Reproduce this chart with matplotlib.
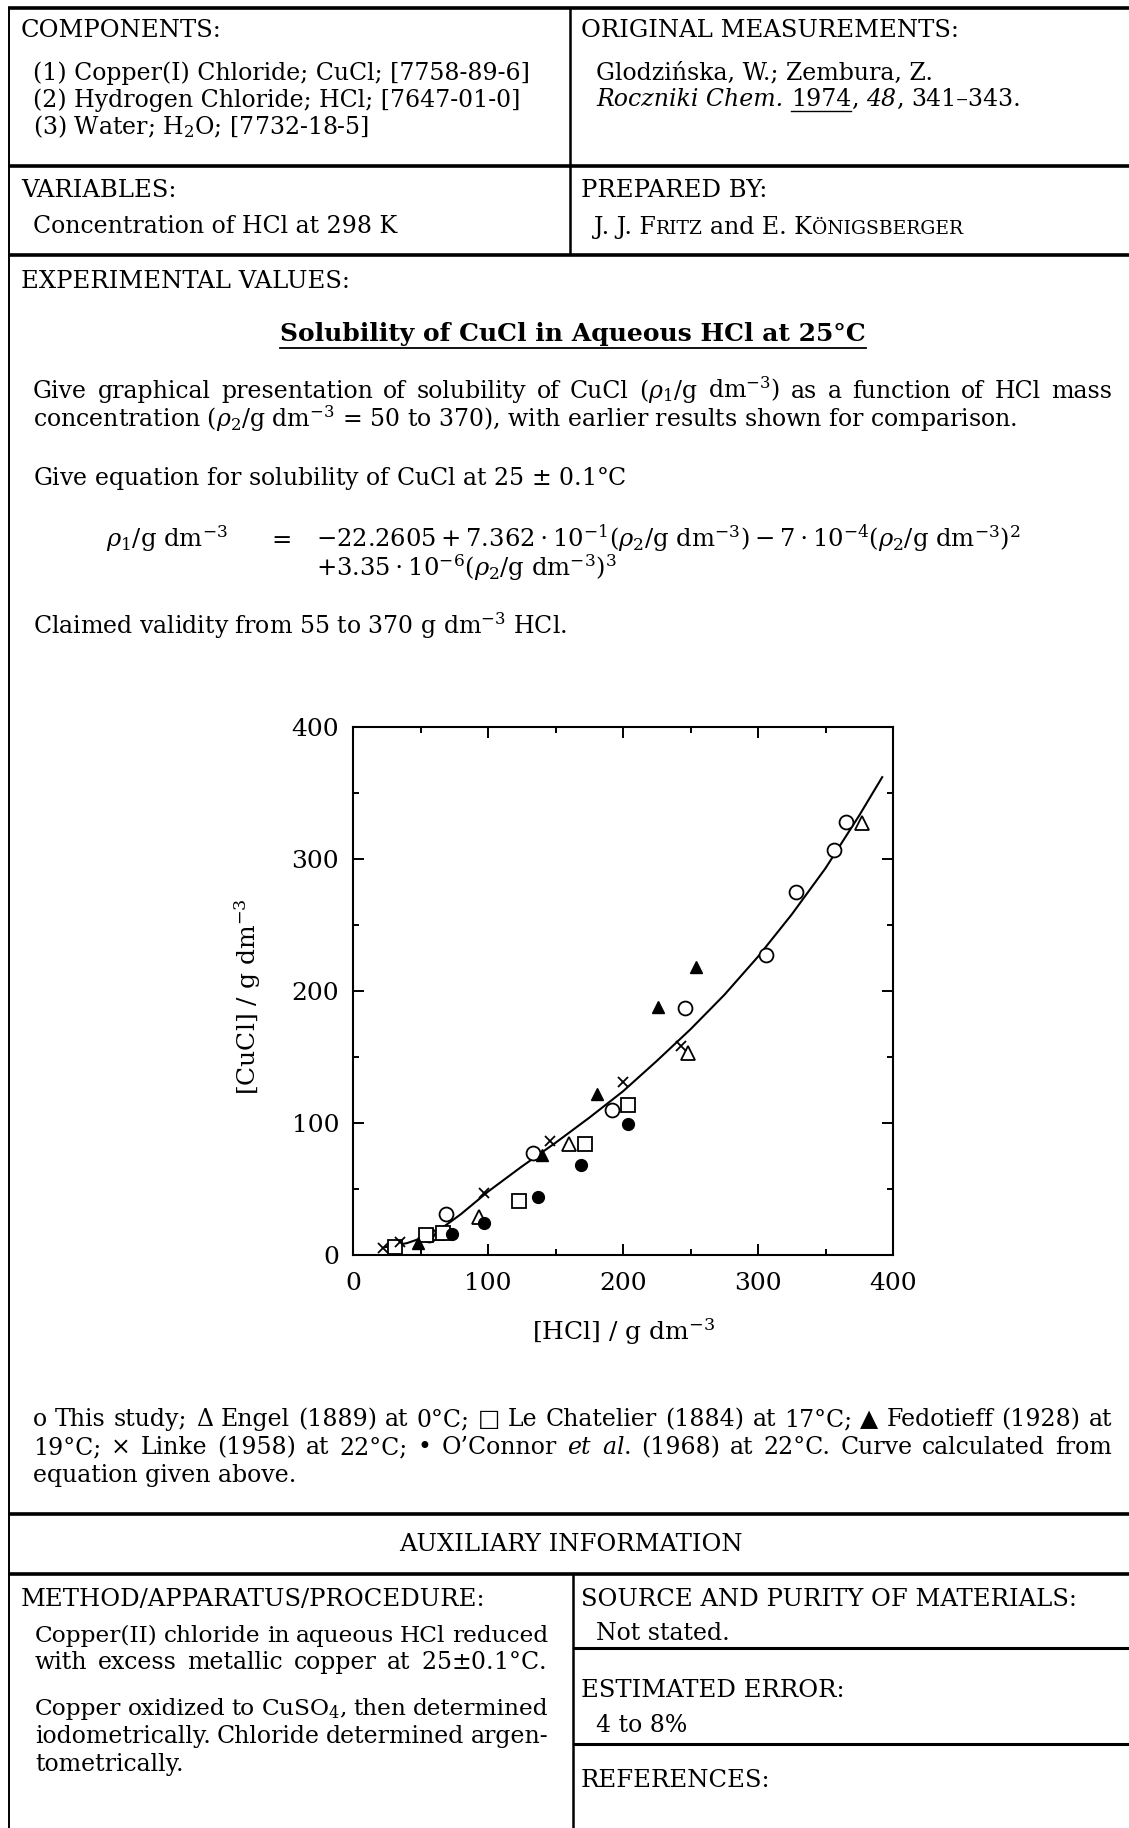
import matplotlib
matplotlib.use("Agg")
import matplotlib.pyplot as plt
from matplotlib.ticker import MultipleLocator

plt.rcParams['font.family'] = ['DejaVu Serif', 'DejaVu Sans']
plt.rcParams['mathtext.fontset'] = 'dejavuserif'

# --- data ---
study_x = [56, 69, 133, 192, 246, 306, 328, 356, 365]
study_y = [15, 31, 77, 110, 187, 227, 275, 307, 328]
engel_x = [64, 93, 160, 248, 377]
engel_y = [17, 29, 84, 153, 327]
chatelier_x = [31, 54, 67, 123, 172, 204]
chatelier_y = [6, 15, 17, 41, 84, 114]
fedotieff_x = [48, 140, 181, 226, 254]
fedotieff_y = [9, 76, 122, 188, 218]
linke_x = [22, 35, 97, 146, 200, 243]
linke_y = [5, 10, 47, 86, 131, 158]
oconnor_x = [73, 97, 137, 169, 204]
oconnor_y = [16, 24, 44, 68, 99]
curve_x = [24, 40, 60, 80, 100, 125, 150, 175, 200, 225, 250, 275, 300, 325, 350, 375, 392]
curve_y = [6, 9, 16, 31, 48, 67, 85, 104, 124, 147, 171, 197, 226, 258, 293, 333, 362]
ticks = [0, 100, 200, 300, 400]

W, H = 1129, 1828
FS = 17      # body text
HS = 17.5    # capital headings

fig = plt.figure(figsize=(W / 100, H / 100), dpi=100)
page = fig.add_axes([0, 0, 1, 1])
page.set_xlim(0, W)
page.set_ylim(H, 0)
page.axis('off')
r = fig.canvas.get_renderer()


def put(x, y, s, size=FS, **kw):
    return page.text(x, y, s, fontsize=size, va='baseline', **kw)


def width(t):
    return t.get_window_extent(r).width


def space_at(size):
    a, b = put(0, -50, "x x", size), put(0, -50, "xx", size)
    w = width(a) - width(b)
    a.remove()
    b.remove()
    return w


space = space_at(FS)


def justify(x, y, s, right, size=FS):
    words = s.split(' ')
    while True:
        ts = [put(x, y, w, size) for w in words]
        ws = [width(t) for t in ts]
        gap = (right - x - sum(ws)) / (len(ts) - 1)
        if gap >= 0.7 * space_at(size) or size < 12:
            break
        for t in ts:
            t.remove()
        size -= 0.25
    for t, w in zip(ts, ws):
        t.set_x(x)
        x += w + gap


def chain(x, y, parts):
    # pieces placed one after the other; gap = number of spaces before
    out = []
    for s, kw, gap in parts:
        x += gap * space
        kw = dict(kw)
        size = kw.pop('size', FS)
        t = put(x, y, s, size, **kw)
        out.append((x, width(t)))
        x += width(t)
    return out


def hline(y, x0, x1, lw=2.6):
    page.plot([x0, x1], [y, y], color='k', lw=lw, solid_capstyle='butt')


def vline(x, y0, y1, lw=1.8):
    page.plot([x, x], [y0, y1], color='k', lw=lw, solid_capstyle='butt')


# frame of the data sheet
hline(8, 8, W)
hline(166, 8, W)
hline(255, 8, W)
hline(1514, 8, W)
hline(1574, 8, W)
hline(1648, 573, W, lw=2.2)
hline(1744, 573, W, lw=2.2)
vline(9, 8, H, lw=1.4)
vline(570, 8, 255)
vline(573, 1574, H)

# top boxes
put(21, 37, "COMPONENTS:", HS)
put(33, 80, "(1) Copper(I) Chloride; CuCl; [7758-89-6]")
put(33, 107, "(2) Hydrogen Chloride; HCl; [7647-01-0]")
put(33, 134, "(3) Water; H$_2$O; [7732-18-5]")
put(581, 37, "ORIGINAL MEASUREMENTS:", HS)
put(596, 79, "Glodzińska, W.; Zembura, Z.")
pc = chain(596, 106, [("Roczniki Chem.", {'style': 'italic'}, 0),
                      ("1974", {}, 1), (",", {}, 0),
                      ("48", {'style': 'italic'}, 1), (",", {}, 0),
                      ("341–343.", {}, 1)])
page.plot([pc[1][0], pc[1][0] + pc[1][1]], [111, 111], color='k', lw=1.0)

put(21, 197, "VARIABLES:", HS)
put(33, 233, "Concentration of HCl at 298 K")
put(581, 197, "PREPARED BY:", HS)
chain(594, 234, [("J. J. F", {}, 0), ("RITZ", {'size': 13.5}, 0),
                 ("and E. K", {}, 1), ("ÖNIGSBERGER", {'size': 13.5}, 0)])

# experimental values
put(21, 288, "EXPERIMENTAL VALUES:", HS)
tt = page.text(573, 341, "Solubility of CuCl in Aqueous HCl at 25°C", fontsize=18,
               fontweight='bold', ha='center', va='baseline')
tw = width(tt)
page.plot([573 - tw / 2, 573 + tw / 2], [348, 348], color='k', lw=1.3)

justify(33, 398, "Give graphical presentation of solubility of CuCl ($\\rho_1$/g dm$^{-3}$) "
        "as a function of HCl mass", 1112)
put(33, 427, "concentration ($\\rho_2$/g dm$^{-3}$ = 50 to 370), with earlier results "
    "shown for comparison.")
put(33, 485, "Give equation for solubility of CuCl at 25 $\\pm$ 0.1°C")
put(106, 547, "$\\rho_1$/g dm$^{-3}$", 17.5)
put(271, 547, "=", 17.5)
put(316, 547, r"$-22.2605+7.362\cdot10^{-1}(\rho_2/\mathrm{g\ dm}^{-3})-7\cdot10^{-4}"
    r"(\rho_2/\mathrm{g\ dm}^{-3})^2$", 17.5)
put(316, 576, r"$+3.35\cdot10^{-6}(\rho_2/\mathrm{g\ dm}^{-3})^3$", 17.5)
put(33, 634, "Claimed validity from 55 to 370 g dm$^{-3}$ HCl.")

# the chart
ax = fig.add_axes([353 / W, (H - 1255) / H, 540 / W, 528 / H])
ax.plot(curve_x, curve_y, color='k', lw=1.5, zorder=2)
ax.plot(study_x, study_y, 'o', ms=10, mfc='white', mec='k', mew=1.3, ls='none', zorder=3)
ax.plot(engel_x, engel_y, '^', ms=9.5, mfc='white', mec='k', mew=1.3, ls='none', zorder=3)
ax.plot(chatelier_x, chatelier_y, 's', ms=9.5, mfc='white', mec='k', mew=1.3, ls='none', zorder=3)
ax.plot(fedotieff_x, fedotieff_y, '^', ms=8.5, color='k', ls='none', zorder=3)
ax.plot(linke_x, linke_y, 'x', ms=7, color='k', mew=1.3, ls='none', zorder=3)
ax.plot(oconnor_x, oconnor_y, 'o', ms=8.5, color='k', ls='none', zorder=3)
ax.set_xlim(0, 400)
ax.set_ylim(0, 400)
ax.set_xticks(ticks)
ax.set_yticks(ticks)
ax.xaxis.set_minor_locator(MultipleLocator(50))
ax.yaxis.set_minor_locator(MultipleLocator(50))
ax.tick_params(which='both', direction='in', top=True, right=True, width=1.4)
ax.tick_params(which='major', length=8, labelsize=18)
ax.tick_params(which='minor', length=4)
ax.tick_params(axis='x', pad=12)
ax.tick_params(axis='y', pad=10)
for s in ax.spines.values():
    s.set_linewidth(1.5)
page.text(624, 1332, "[HCl] / g dm$^{-3}$", fontsize=18, ha='center', va='center')
page.text(248, 997, "[CuCl] / g dm$^{-3}$", fontsize=18, ha='center', va='center', rotation=90)

# legend text
justify(33, 1426, "o This study; Δ Engel (1889) at 0°C; □ Le Chatelier (1884) at 17°C; "
        "▲ Fedotieff (1928) at", 1112)
justify(33, 1454, "19°C; × Linke (1958) at 22°C; • O’Connor $\\mathit{et}$ $\\mathit{al.}$ "
        "(1968) at 22°C. Curve calculated from", 1112)
put(33, 1482, "equation given above.")

# auxiliary information
page.text(571, 1551, "AUXILIARY INFORMATION", fontsize=HS, ha='center', va='baseline')
put(21, 1606, "METHOD/APPARATUS/PROCEDURE:", HS)
justify(35, 1642, "Copper(II) chloride in aqueous HCl reduced", 548)
justify(35, 1669, "with excess metallic copper at 25$\\pm$0.1°C.", 546)
justify(35, 1715, "Copper oxidized to CuSO$_4$, then determined", 548)
justify(35, 1743, "iodometrically. Chloride determined argen-", 548)
put(35, 1771, "tometrically.")
put(581, 1606, "SOURCE AND PURITY OF MATERIALS:", HS)
put(596, 1640, "Not stated.")
put(581, 1697, "ESTIMATED ERROR:", HS)
put(596, 1732, "4 to 8%")
put(581, 1787, "REFERENCES:", HS)

fig.savefig("out.png", dpi=100, facecolor='white')
